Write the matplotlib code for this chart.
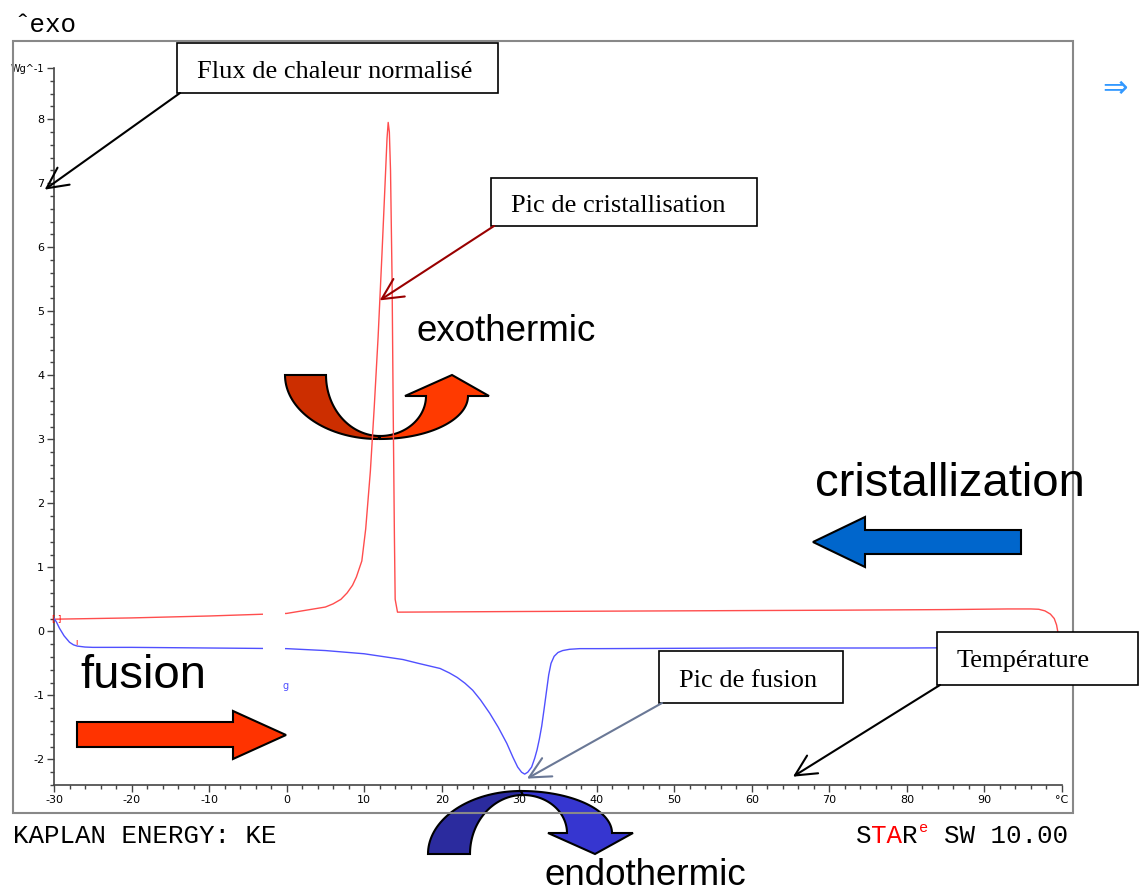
import numpy as np
import matplotlib
matplotlib.use("Agg")
import matplotlib.pyplot as plt
from matplotlib.patches import Polygon, Rectangle
from matplotlib.transforms import Affine2D

W, H = 1140, 891

# --- data (temperature in °C, heat flow in W/g) ---
red_t = [-30, -20, -10, 0, 5, 6, 7, 7.8, 8.5, 9.0, 9.7, 10.2, 10.8, 11.3, 11.8,
         12.3, 12.7, 12.95, 13.1, 13.25, 13.4, 13.6, 13.75, 13.9, 14.0, 14.3,
         30, 50, 70, 85, 93, 96, 97, 97.8, 98.5, 99.0, 99.3, 99.45]
red_q = [0.19, 0.21, 0.24, 0.28, 0.38, 0.43, 0.5, 0.6, 0.72, 0.85, 1.1, 1.6, 2.5,
         3.5, 4.6, 5.9, 7.0, 7.7, 7.95, 7.8, 7.2, 5.5, 3.4, 1.5, 0.5, 0.3,
         0.31, 0.32, 0.33, 0.34, 0.35, 0.35, 0.345, 0.32, 0.27, 0.2, 0.1, 0.0]

blue_t = [-30, -29.7, -29.3, -28.7, -28, -27.5, -27, -26, -25, -20, -10, 0, 5, 10,
          15, 17, 19.8, 21, 22, 23, 24, 25, 26.2, 27.3, 28.4, 29.2, 29.8, 30.3,
          30.7, 31.1, 31.6, 32.0, 32.3, 32.6, 32.9, 33.2, 33.5, 33.8, 34.1, 34.5,
          35.0, 35.6, 36.5, 37.8, 40.4, 60, 80, 97]
blue_q = [0.2, 0.15, 0.05, -0.07, -0.17, -0.21, -0.23, -0.245, -0.25, -0.25, -0.26,
          -0.27, -0.3, -0.35, -0.44, -0.5, -0.58, -0.65, -0.72, -0.81, -0.92, -1.07,
          -1.28, -1.5, -1.75, -1.97, -2.12, -2.2, -2.23, -2.2, -2.12, -1.98, -1.85,
          -1.68, -1.48, -1.22, -0.95, -0.68, -0.5, -0.39, -0.33, -0.3, -0.28, -0.27,
          -0.27, -0.26, -0.26, -0.25]

x_ticks = list(range(-30, 101, 10))
x_labels = [str(v) for v in range(-30, 91, 10)] + ['°C']
y_ticks = list(range(-2, 9)) + [8.8]
y_labels = [str(v) for v in range(-2, 9)] + ['Wg^-1']

fig = plt.figure(figsize=(W / 100, H / 100), dpi=100)
ax = fig.add_axes([54 / W, 1 - 785 / H, (1062 - 54) / W, (785 - 68) / H])
ax.patch.set_alpha(0)

# pixel coordinates, origin top-left
pix = Affine2D().scale(1 / W, -1 / H).translate(0, 1) + fig.transFigure

ax.plot(red_t, red_q, color='#ff4d4d', lw=1.0, zorder=4)
ax.plot(blue_t, blue_q, color='#5050ff', lw=1.0, zorder=4)

ax.set_xlim(-30, 100)
ax.set_ylim(-2.4, 8.8)
for s in ['top', 'right']:
    ax.spines[s].set_visible(False)
for s in ['left', 'bottom']:
    ax.spines[s].set_color('#444444')
    ax.spines[s].set_linewidth(1.2)

ax.set_xticks(x_ticks)
ax.set_xticklabels(x_labels)
ax.set_xticks(np.arange(-30, 101, 2), minor=True)
ax.set_yticks(y_ticks)
ax.set_yticklabels(y_labels)
ax.set_yticks(np.arange(-2.4, 8.81, 0.2), minor=True)
ax.tick_params(which='major', length=5, width=1, color='#444444', labelsize=8, pad=2)
ax.tick_params(which='minor', length=3, width=1, color='#444444')
ax.get_yticklabels()[-1].set_fontsize(7)

# small instrument markers
ax.text(-30.2, 0.2, '[ ]', color='red', fontsize=6, va='center', zorder=5)
ax.text(-27.3, -0.17, 'ı', color='red', fontsize=6, va='center', zorder=5)
ax.text(-0.5, -0.86, 'g', color='#5050ff', fontsize=7, va='center', zorder=5)

# white gap in the traces
ax.add_patch(Rectangle((263, 600), 22, 55, transform=pix, clip_on=False,
                       facecolor='white', edgecolor='none', zorder=4.5))

# outer frame
ax.add_patch(Rectangle((13, 41), 1060, 772, transform=pix, clip_on=False,
                       fill=False, edgecolor='#888888', lw=1.5, zorder=5))


def arc(cx, cy, rx, ry, a0, a1, n=40):
    a = np.radians(np.linspace(a0, a1, n))
    return np.column_stack([cx + rx * np.cos(a), cy + ry * np.sin(a)])


def shape(pts, color, z=3):
    ax.add_patch(Polygon(pts, closed=True, transform=pix, clip_on=False,
                         facecolor=color, edgecolor='black', lw=1.5, zorder=z))


# straight fat arrows
shape([(1021, 530), (865, 530), (865, 517), (813, 542), (865, 567), (865, 554),
       (1021, 554)], '#0066cc')
shape([(77, 722), (233, 722), (233, 711), (286, 735), (233, 759), (233, 747),
       (77, 747)], '#ff3300')

# exothermic U-turn arrow
left = np.vstack([arc(378, 375, 93, 64, 180, 90), arc(380, 375, 54, 61, 90, 180)])
shape(left, '#cc2e00')
right = np.vstack([arc(380, 396, 88, 43, 90, 0),
                   [(489, 396), (452, 375), (405, 396)],
                   arc(380, 396, 46, 40, 0, 90)])
shape(right, '#ff3a00')

# endothermic arch arrow
left = np.vstack([arc(521, 854, 93, 63, 180, 270), arc(523, 854, 53, 59, 270, 180)])
shape(left, '#2b2b9e', z=3.5)
right = np.vstack([arc(521, 833, 91, 42, 270, 360),
                   [(633, 833), (595, 854), (548, 833)],
                   arc(523, 833, 44, 38, 360, 270)])
shape(right, '#3636d0', z=3.6)

# big labels
sans = 'Liberation Sans'
ax.text(417, 341, 'exothermic', transform=pix, fontsize=26.5, family=sans, zorder=7)
ax.text(815, 496, 'cristallization', transform=pix, fontsize=34, family=sans, zorder=7)
ax.text(80, 688, 'fusion', transform=pix, fontsize=34, family=sans, zorder=7)
ax.text(545, 885, 'endothermic', transform=pix, fontsize=26.5, family=sans, zorder=7)

# boxed annotations
serif = 'Liberation Serif'
boxes = [
    ('Flux de chaleur normalisé', (177, 43, 498, 93), 78, (-31.2, 6.9), 'black'),
    ('Pic de cristallisation', (491, 178, 757, 226), 212, (12.0, 5.17), '#990000'),
    ('Pic de fusion', (659, 651, 843, 703), 687, (31.0, -2.3), '#6a7896'),
    ('Température', (937, 632, 1138, 685), 667, (65.3, -2.27), 'black'),
]
for label, (x0, y0, x1, y1), base, tip, col in boxes:
    ax.add_patch(Rectangle((x0, y0), x1 - x0, y1 - y0, transform=pix, clip_on=False,
                           facecolor='white', edgecolor='black', lw=1.2, zorder=6))
    ax.text(x0 + 20, base, label, transform=pix, fontsize=19, family=serif, zorder=7)
    ax.annotate('', xy=tip, xycoords='data', xytext=(x0 + 3, y1), textcoords=pix,
                annotation_clip=False, zorder=8,
                arrowprops=dict(arrowstyle='->,head_length=0.5,head_width=0.25',
                                color=col, lw=1.5, mutation_scale=30,
                                shrinkA=0, shrinkB=0))

# header / footer texts
mono = ['Liberation Mono', 'DejaVu Sans Mono']
fs = 18.6
cw = 0.6 * fs * 100 / 72
ax.text(14, 32, 'ˆexo', transform=pix, fontsize=fs, family=mono)
ax.text(13, 843, 'KAPLAN ENERGY: KE', transform=pix, fontsize=fs, family=mono)
ax.text(856, 843, 'S', transform=pix, fontsize=fs, family=mono)
ax.text(856 + cw, 843, 'TA', transform=pix, fontsize=fs, family=mono, color='red')
ax.text(856 + 3 * cw, 843, 'R', transform=pix, fontsize=fs, family=mono)
ax.text(856 + 4 * cw + 1, 832, 'e', transform=pix, fontsize=11, family=mono, color='red')
ax.text(944, 843, 'SW 10.00', transform=pix, fontsize=fs, family=mono)

ax.text(1115, 88, '⇒', transform=pix, fontsize=22, color='#3399ff',
        ha='center', va='center', family='DejaVu Sans')

fig.savefig('out.png', dpi=100)
